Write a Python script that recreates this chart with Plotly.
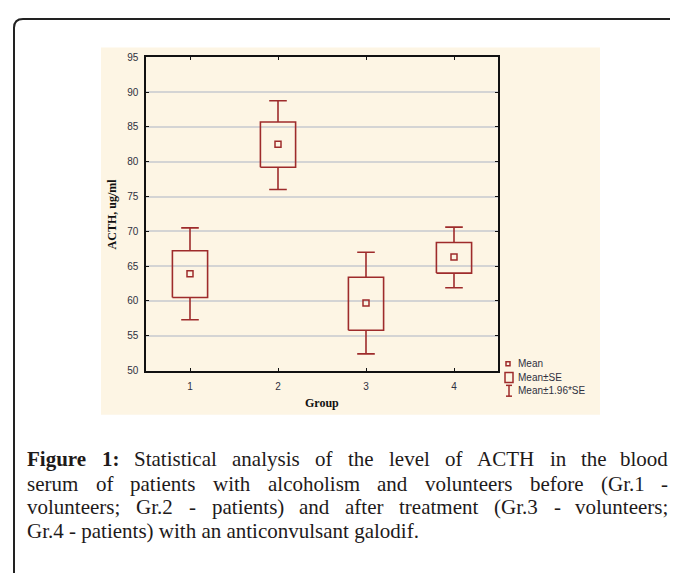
import plotly.graph_objects as go

# the page body adds an 8px margin, so the figure is drawn 8px in and 8px down;
# only ~670px of the width is visible, keep the figure inside that
OFF = 8
W, H = 662, 570

# values
groups = [1, 2, 3, 4]
group_labels = ["1", "2", "3", "4"]
mean_vals = [63.9, 82.5, 59.7, 66.3]
se_low = [60.5, 79.2, 55.8, 64.0]
se_high = [67.2, 85.7, 63.4, 68.4]
ci_low = [57.3, 76.0, 52.4, 61.9]
ci_high = [70.5, 88.75, 67.0, 70.6]
y_ticks = [50, 55, 60, 65, 70, 75, 80, 85, 90, 95]

legend_labels = ["Mean", "Mean±SE", "Mean±1.96*SE"]

caption_lines = [
    [("Figure", True), ("1:", True)] + [(w, False) for w in "Statistical analysis of the level of ACTH in the blood".split()],
    [(w, False) for w in "serum of patients with alcoholism and volunteers before (Gr.1 -".split()],
    [(w, False) for w in "volunteers; Gr.2 - patients) and after treatment (Gr.3 - volunteers;".split()],
]
caption_last = "Gr.4 - patients) with an anticonvulsant galodif."

RED = "#9E2B2B"
TXT = "#2E3040"
BOX_HALF = 0.2
CAP_HALF = 0.1


def px(x):
    return (x - OFF) / W


def py(y):
    return 1 - (y - OFF) / H


# rough Times metrics, used only to spread justified words
TW = dict(a=444, b=500, c=444, d=500, e=444, f=333, g=500, h=500, i=278, j=278, k=500,
          l=278, m=778, n=500, o=500, p=500, q=500, r=333, s=389, t=278, u=500, v=500,
          w=722, x=500, y=500, z=444, A=722, C=667, F=556, G=722, H=722, S=556, T=611)
TW.update({".": 250, ":": 278, ";": 278, "(": 333, ")": 333, "-": 333, " ": 250})
TWB = dict(TW, F=611, u=556, r=444)
TWB[":"] = 333


def text_w(s, bold, size):
    tbl = TWB if bold else TW
    return sum(tbl.get(ch, 500) for ch in s) * size / 1000


# boxes (mean +- SE) and whiskers (mean +- 1.96 SE) as line paths in data space
box_x, box_y = [], []
wh_x, wh_y = [], []
for g, lo, hi, clo, chi in zip(groups, se_low, se_high, ci_low, ci_high):
    box_x += [g - BOX_HALF, g + BOX_HALF, g + BOX_HALF, g - BOX_HALF, g - BOX_HALF, None]
    box_y += [lo, lo, hi, hi, lo, None]
    wh_x += [g, g, None, g, g, None, g - CAP_HALF, g + CAP_HALF, None, g - CAP_HALF, g + CAP_HALF, None]
    wh_y += [hi, chi, None, lo, clo, None, chi, chi, None, clo, clo, None]

fig = go.Figure()
fig.add_trace(go.Scatter(x=wh_x, y=wh_y, mode="lines", line=dict(color=RED, width=1.6),
                         showlegend=False, hoverinfo="skip"))
fig.add_trace(go.Scatter(x=box_x, y=box_y, mode="lines", line=dict(color=RED, width=1.6),
                         showlegend=False, hoverinfo="skip"))
fig.add_trace(go.Scatter(
    x=groups, y=mean_vals, mode="markers",
    marker=dict(symbol="square-open", size=6, color=RED, line=dict(width=1.5, color=RED)),
    showlegend=False,
))

axis_common = dict(showline=True, linecolor="#111", linewidth=1.5, mirror="ticks",
                   ticks="inside", ticklen=3, tickcolor="#111", zeroline=False,
                   tickfont=dict(family="Liberation Sans, Arial", size=10, color=TXT))

fig.update_layout(
    width=W, height=H,
    margin=dict(l=0, r=0, t=0, b=0),
    paper_bgcolor="white", plot_bgcolor="white",
    xaxis=dict(domain=[px(146), px(498)], range=[0.5, 4.5], tickvals=groups,
               ticktext=group_labels, showgrid=False, ticklabelstandoff=6, **axis_common),
    yaxis=dict(domain=[py(372), py(53)], range=[50, 95], tickvals=y_ticks,
               showgrid=True, gridcolor="#D4D4D4", gridwidth=1.5,
               ticklabelstandoff=4, **axis_common),
)

shapes = [
    # cream chart background
    dict(type="rect", xref="paper", yref="paper", x0=px(101), x1=px(600), y0=py(417), y1=py(43),
         fillcolor="#FDF5E4", line=dict(width=0), layer="below"),
    # outer frame with rounded corner
    dict(type="path", xref="paper", yref="paper",
         path=f"M {px(14)},0 L {px(14)},{py(23)} Q {px(14)},{py(14)} {px(23)},{py(14)} L 1,{py(14)}",
         line=dict(color="#222", width=2)),
    # legend symbols
    dict(type="rect", xref="paper", yref="paper", x0=px(506), x1=px(510), y0=py(367), y1=py(363),
         line=dict(color=RED, width=1.5)),
    dict(type="rect", xref="paper", yref="paper", x0=px(505), x1=px(513), y0=py(384), y1=py(374),
         line=dict(color=RED, width=1.5)),
    dict(type="line", xref="paper", yref="paper", x0=px(509), x1=px(509), y0=py(398), y1=py(387),
         line=dict(color=RED, width=1.5)),
    dict(type="line", xref="paper", yref="paper", x0=px(506), x1=px(512), y0=py(387), y1=py(387),
         line=dict(color=RED, width=1.5)),
    dict(type="line", xref="paper", yref="paper", x0=px(506), x1=px(512), y0=py(398), y1=py(398),
         line=dict(color=RED, width=1.5)),
]
fig.update_layout(shapes=shapes)

ann = []
for lab, yy in zip(legend_labels, [365, 379, 392]):
    ann.append(dict(xref="paper", yref="paper", x=px(516), y=py(yy), text=lab, showarrow=False,
                    xanchor="left", yanchor="middle",
                    font=dict(family="Liberation Sans, Arial", size=10, color=TXT)))

ann.append(dict(xref="paper", yref="paper", x=px(322), y=py(405), text="<b>Group</b>", showarrow=False,
                xanchor="center", yanchor="middle",
                font=dict(family="Liberation Serif, Times New Roman", size=12, color="#111")))
ann.append(dict(xref="paper", yref="paper", x=px(112), y=py(213), text="<b>ACTH, ug/ml</b>", showarrow=False,
                textangle=-90, xanchor="center", yanchor="middle",
                font=dict(family="Liberation Serif, Times New Roman", size=12, color="#111")))

# caption, justified word by word
CAP_SIZE = 21
cap_font = dict(family="Liberation Serif, Times New Roman", size=CAP_SIZE, color="#1E1A1A")
left, right = 26, 669
line_y = [462, 487, 511, 535]
for words, cy in zip(caption_lines, line_y):
    widths = [text_w(wd, b, CAP_SIZE) for wd, b in words]
    gap = (right - left - sum(widths)) / (len(words) - 1)
    x = left
    for i, ((wd, b), wdt) in enumerate(zip(words, widths)):
        txt = f"<b>{wd}</b>" if b else wd
        last = i == len(words) - 1
        ann.append(dict(xref="paper", yref="paper", x=px(right if last else x), y=py(cy),
                        text=txt, showarrow=False, xanchor="right" if last else "left",
                        yanchor="middle", font=cap_font, borderpad=0))
        x += wdt + gap
ann.append(dict(xref="paper", yref="paper", x=px(left), y=py(line_y[3]), text=caption_last,
                showarrow=False, xanchor="left", yanchor="middle", font=cap_font, borderpad=0))

fig.update_layout(annotations=ann)

fig.write_html("out.html")
